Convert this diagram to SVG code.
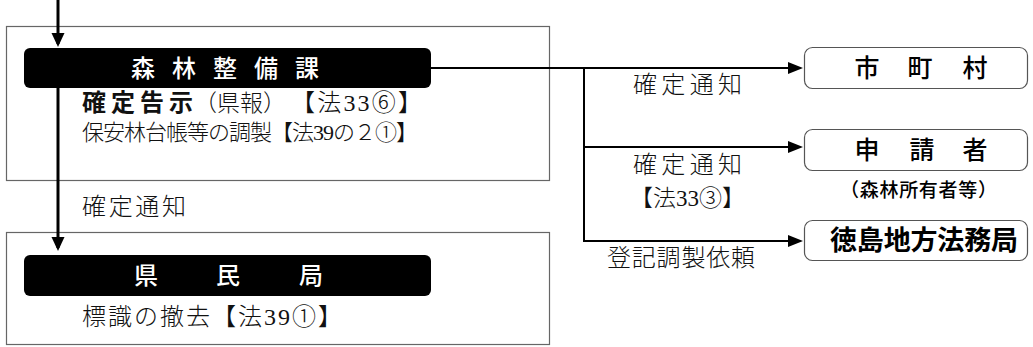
<svg xmlns="http://www.w3.org/2000/svg" width="1033" height="347" viewBox="0 0 1033 347">
<defs>
<style>
.frame{fill:#fff;stroke:#666;stroke-width:1.2}
.bar{fill:#000}
.rbox{fill:#fff;stroke:#555;stroke-width:1.2}
.bt{font-family:"Noto Sans CJK JP",sans-serif;font-size:24px;font-weight:500;fill:#fff;text-anchor:middle}
.rt{font-family:"Noto Sans CJK JP",sans-serif;font-size:25px;font-weight:500;fill:#000;text-anchor:middle}
.mt{font-family:"Liberation Serif","Noto Sans CJK JP",serif;font-size:24px;fill:#111;font-weight:300}
.mb{font-weight:700}
.conn{stroke:#000;fill:none}
</style>
<marker id="ahR" markerUnits="userSpaceOnUse" markerWidth="16" markerHeight="14" refX="12" refY="7" orient="auto">
<path d="M0,1 L15,7 L0,13 Z" fill="#000"/>
</marker>
<marker id="ahL" markerUnits="userSpaceOnUse" markerWidth="16" markerHeight="16" refX="11" refY="8" orient="auto">
<path d="M0,1.5 L14,8 L0,14.5 Z" fill="#000"/>
</marker>
</defs>
<rect width="1033" height="347" fill="#fff"/>

<g id="node-shinrin">
<rect class="frame" x="6.5" y="26.5" width="543" height="154"/>
<rect class="bar" x="24" y="48" width="407" height="40" rx="6"/>
<text class="bt" y="77"><tspan x="143">森</tspan><tspan x="184">林</tspan><tspan x="225">整</tspan><tspan x="266">備</tspan><tspan x="307">課</tspan></text>
<text class="mt" y="111"><tspan x="82" class="mb" textLength="111" lengthAdjust="spacing">確定告示</tspan><tspan x="194" style="font-size:23px">（県報）</tspan><tspan x="291" textLength="131" lengthAdjust="spacing">【法33⑥】</tspan></text>
<text class="mt" x="82" y="140" style="font-size:22px" textLength="336" lengthAdjust="spacing">保安林台帳等の調製【法39の２①】</text>
</g>

<g id="node-kenmin">
<rect class="frame" x="6.5" y="232.5" width="543" height="112"/>
<rect class="bar" x="24" y="255" width="407" height="41" rx="6"/>
<text class="bt" y="284"><tspan x="146">県</tspan><tspan x="228">民</tspan><tspan x="311">局</tspan></text>
<text class="mt" x="82" y="325" textLength="260" lengthAdjust="spacing">標識の撤去【法39①】</text>
</g>

<g id="node-shichoson">
<rect class="rbox" x="804.5" y="47.5" width="223" height="41" rx="8"/>
<text class="rt" y="77"><tspan x="867">市</tspan><tspan x="920">町</tspan><tspan x="975">村</tspan></text>
</g>

<g id="node-shinseisha">
<rect class="rbox" x="804.5" y="129.5" width="223" height="41" rx="8"/>
<text class="rt" y="159"><tspan x="867">申</tspan><tspan x="922">請</tspan><tspan x="975">者</tspan></text>
<text x="840" y="197" font-family="Noto Sans CJK JP,sans-serif" font-size="19" font-weight="500" textLength="157" lengthAdjust="spacing">（森林所有者等）</text>
</g>

<g id="node-homukyoku">
<rect class="rbox" x="804.5" y="220.5" width="223" height="40" rx="8"/>
<text x="924" y="250" font-family="Noto Sans CJK JP,sans-serif" font-size="27" font-weight="600" text-anchor="middle" textLength="188" lengthAdjust="spacing">徳島地方法務局</text>
</g>

<g id="connectors">
<line class="conn" x1="58" y1="0" x2="58" y2="44" stroke-width="3" marker-end="url(#ahL)"/>
<line class="conn" x1="58" y1="88" x2="58" y2="248" stroke-width="3" marker-end="url(#ahL)"/>
<line class="conn" x1="431" y1="68" x2="800" y2="68" stroke-width="2" marker-end="url(#ahR)"/>
<polyline class="conn" points="584,68 584,241 800,241" stroke-width="2" marker-end="url(#ahR)"/>
<line class="conn" x1="584" y1="147" x2="800" y2="147" stroke-width="2" marker-end="url(#ahR)"/>
<text class="mt" x="633" y="93" textLength="109" lengthAdjust="spacing">確定通知</text>
<text class="mt" x="633" y="173" textLength="109" lengthAdjust="spacing">確定通知</text>
<text class="mt" x="630" y="206" style="font-size:23px">【法33③】</text>
<text class="mt" x="607" y="266" textLength="148" lengthAdjust="spacing">登記調製依頼</text>
<text class="mt" x="82" y="215" textLength="104" lengthAdjust="spacing">確定通知</text>
</g>
</svg>
